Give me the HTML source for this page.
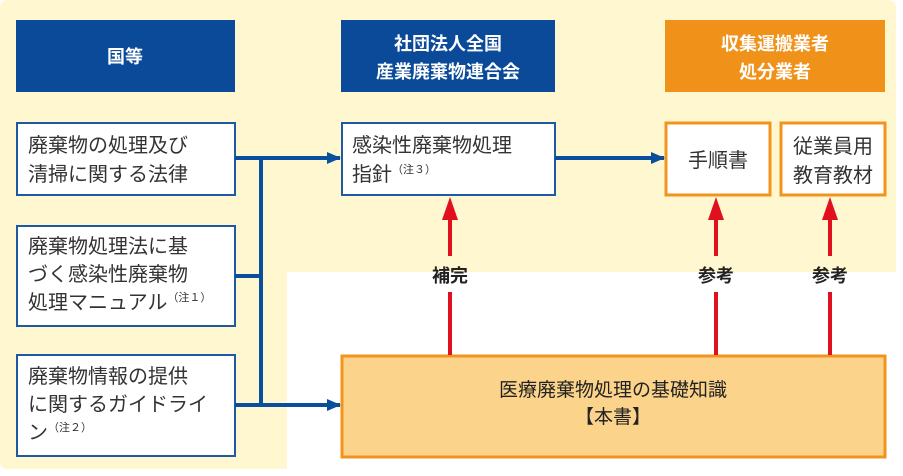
<!DOCTYPE html>
<html><head><meta charset="utf-8"><style>
body{margin:0;background:#fff}
text{font-family:"Liberation Sans","Noto Sans CJK JP",sans-serif}
</style></head><body>
<svg width="903" height="471" viewBox="0 0 903 471" xmlns="http://www.w3.org/2000/svg">
<defs>
<marker id="b" markerWidth="14" markerHeight="12" refX="13" refY="6" orient="auto" markerUnits="userSpaceOnUse" viewBox="0 0 14 12"><path d="M0,0 L14,6 L0,12 z" fill="#0a4f9e"/></marker>
</defs>
<path d="M0,8 Q0,0 8,0 L887,0 Q896,0 896,9 L896,272 L287,272 L287,469 L8,469 Q0,469 0,461 z" fill="#fff7cf"/>
<!-- headers -->
<rect x="16" y="20" width="219" height="72" fill="#0a4a98"/>
<text x="125" y="63" font-size="18" font-weight="bold" fill="#fff" text-anchor="middle">国等</text>
<rect x="341" y="20" width="214" height="72" fill="#0a4a98"/>
<text x="448" y="50" font-size="18" font-weight="bold" fill="#fff" text-anchor="middle">社団法人全国</text>
<text x="448" y="78" font-size="18" font-weight="bold" fill="#fff" text-anchor="middle">産業廃棄物連合会</text>
<rect x="665" y="20" width="220" height="72" fill="#f0921a"/>
<text x="775" y="50" font-size="18" font-weight="bold" fill="#fff" text-anchor="middle">収集運搬業者</text>
<text x="775" y="78" font-size="18" font-weight="bold" fill="#fff" text-anchor="middle">処分業者</text>
<!-- left boxes -->
<g fill="#fff" stroke="#1d5aa3" stroke-width="2">
<rect x="17" y="123" width="218" height="72"/>
<rect x="17" y="226" width="218" height="100"/>
<rect x="17" y="355" width="218" height="101"/>
<rect x="342" y="123" width="213" height="72"/>
</g>
<g font-size="20" fill="#333">
<text x="28" y="152">廃棄物の処理及び</text>
<text x="28" y="181">清掃に関する法律</text>
<text x="28" y="253">廃棄物処理法に基</text>
<text x="28" y="281">づく感染性廃棄物</text>
<text x="28" y="309">処理マニュアル<tspan font-size="11" dy="-8">（注１）</tspan></text>
<text x="28" y="383">廃棄物情報の提供</text>
<text x="28" y="411">に関するガイドライ</text>
<text x="28" y="439">ン<tspan font-size="11" dy="-8">（注２）</tspan></text>
<text x="352" y="152">感染性廃棄物処理</text>
<text x="352" y="181">指針<tspan font-size="11" dy="-8">（注３）</tspan></text>
</g>
<g fill="#fff" stroke="#f0941e" stroke-width="3">
<rect x="666" y="123" width="104" height="72"/>
<rect x="781" y="123" width="104" height="72"/>
</g>
<text x="718" y="167" font-size="20" fill="#333" text-anchor="middle">手順書</text>
<text x="833" y="153" font-size="20" fill="#333" text-anchor="middle">従業員用</text>
<text x="833" y="182" font-size="20" fill="#333" text-anchor="middle">教育教材</text>
<!-- main -->
<rect x="342" y="356" width="543" height="101" fill="#fcd38a" stroke="#f0941e" stroke-width="3"/>
<text x="613" y="396" font-size="19" fill="#222" text-anchor="middle">医療廃棄物処理の基礎知識</text>
<text x="613" y="423" font-size="19" fill="#222" text-anchor="middle">【本書】</text>
<!-- blue connectors -->
<g stroke="#0a4f9e" stroke-width="4" fill="none">
<line x1="261" y1="158" x2="261" y2="405"/>
<line x1="235" y1="158" x2="340" y2="158" marker-end="url(#b)"/>
<line x1="235" y1="276" x2="261" y2="276"/>
<line x1="235" y1="405" x2="340" y2="405" marker-end="url(#b)"/>
<line x1="555" y1="158" x2="664" y2="158" marker-end="url(#b)"/>
</g>
<!-- red arrows -->
<g stroke="#e0101e" stroke-width="4">
<line x1="450" y1="215" x2="450" y2="256"/><line x1="450" y1="292" x2="450" y2="355"/>
<line x1="716" y1="215" x2="716" y2="256"/><line x1="716" y1="292" x2="716" y2="355"/>
<line x1="830" y1="215" x2="830" y2="256"/><line x1="830" y1="292" x2="830" y2="355"/>
</g>
<g fill="#e0101e">
<path d="M442,220 L450,197 L458,220 z"/>
<path d="M708,220 L716,197 L724,220 z"/>
<path d="M822,220 L830,197 L838,220 z"/>
</g>
<g font-size="18" font-weight="bold" fill="#222" text-anchor="middle">
<text x="450" y="282">補完</text>
<text x="716" y="282">参考</text>
<text x="830" y="282">参考</text>
</g>
</svg>
</body></html>
